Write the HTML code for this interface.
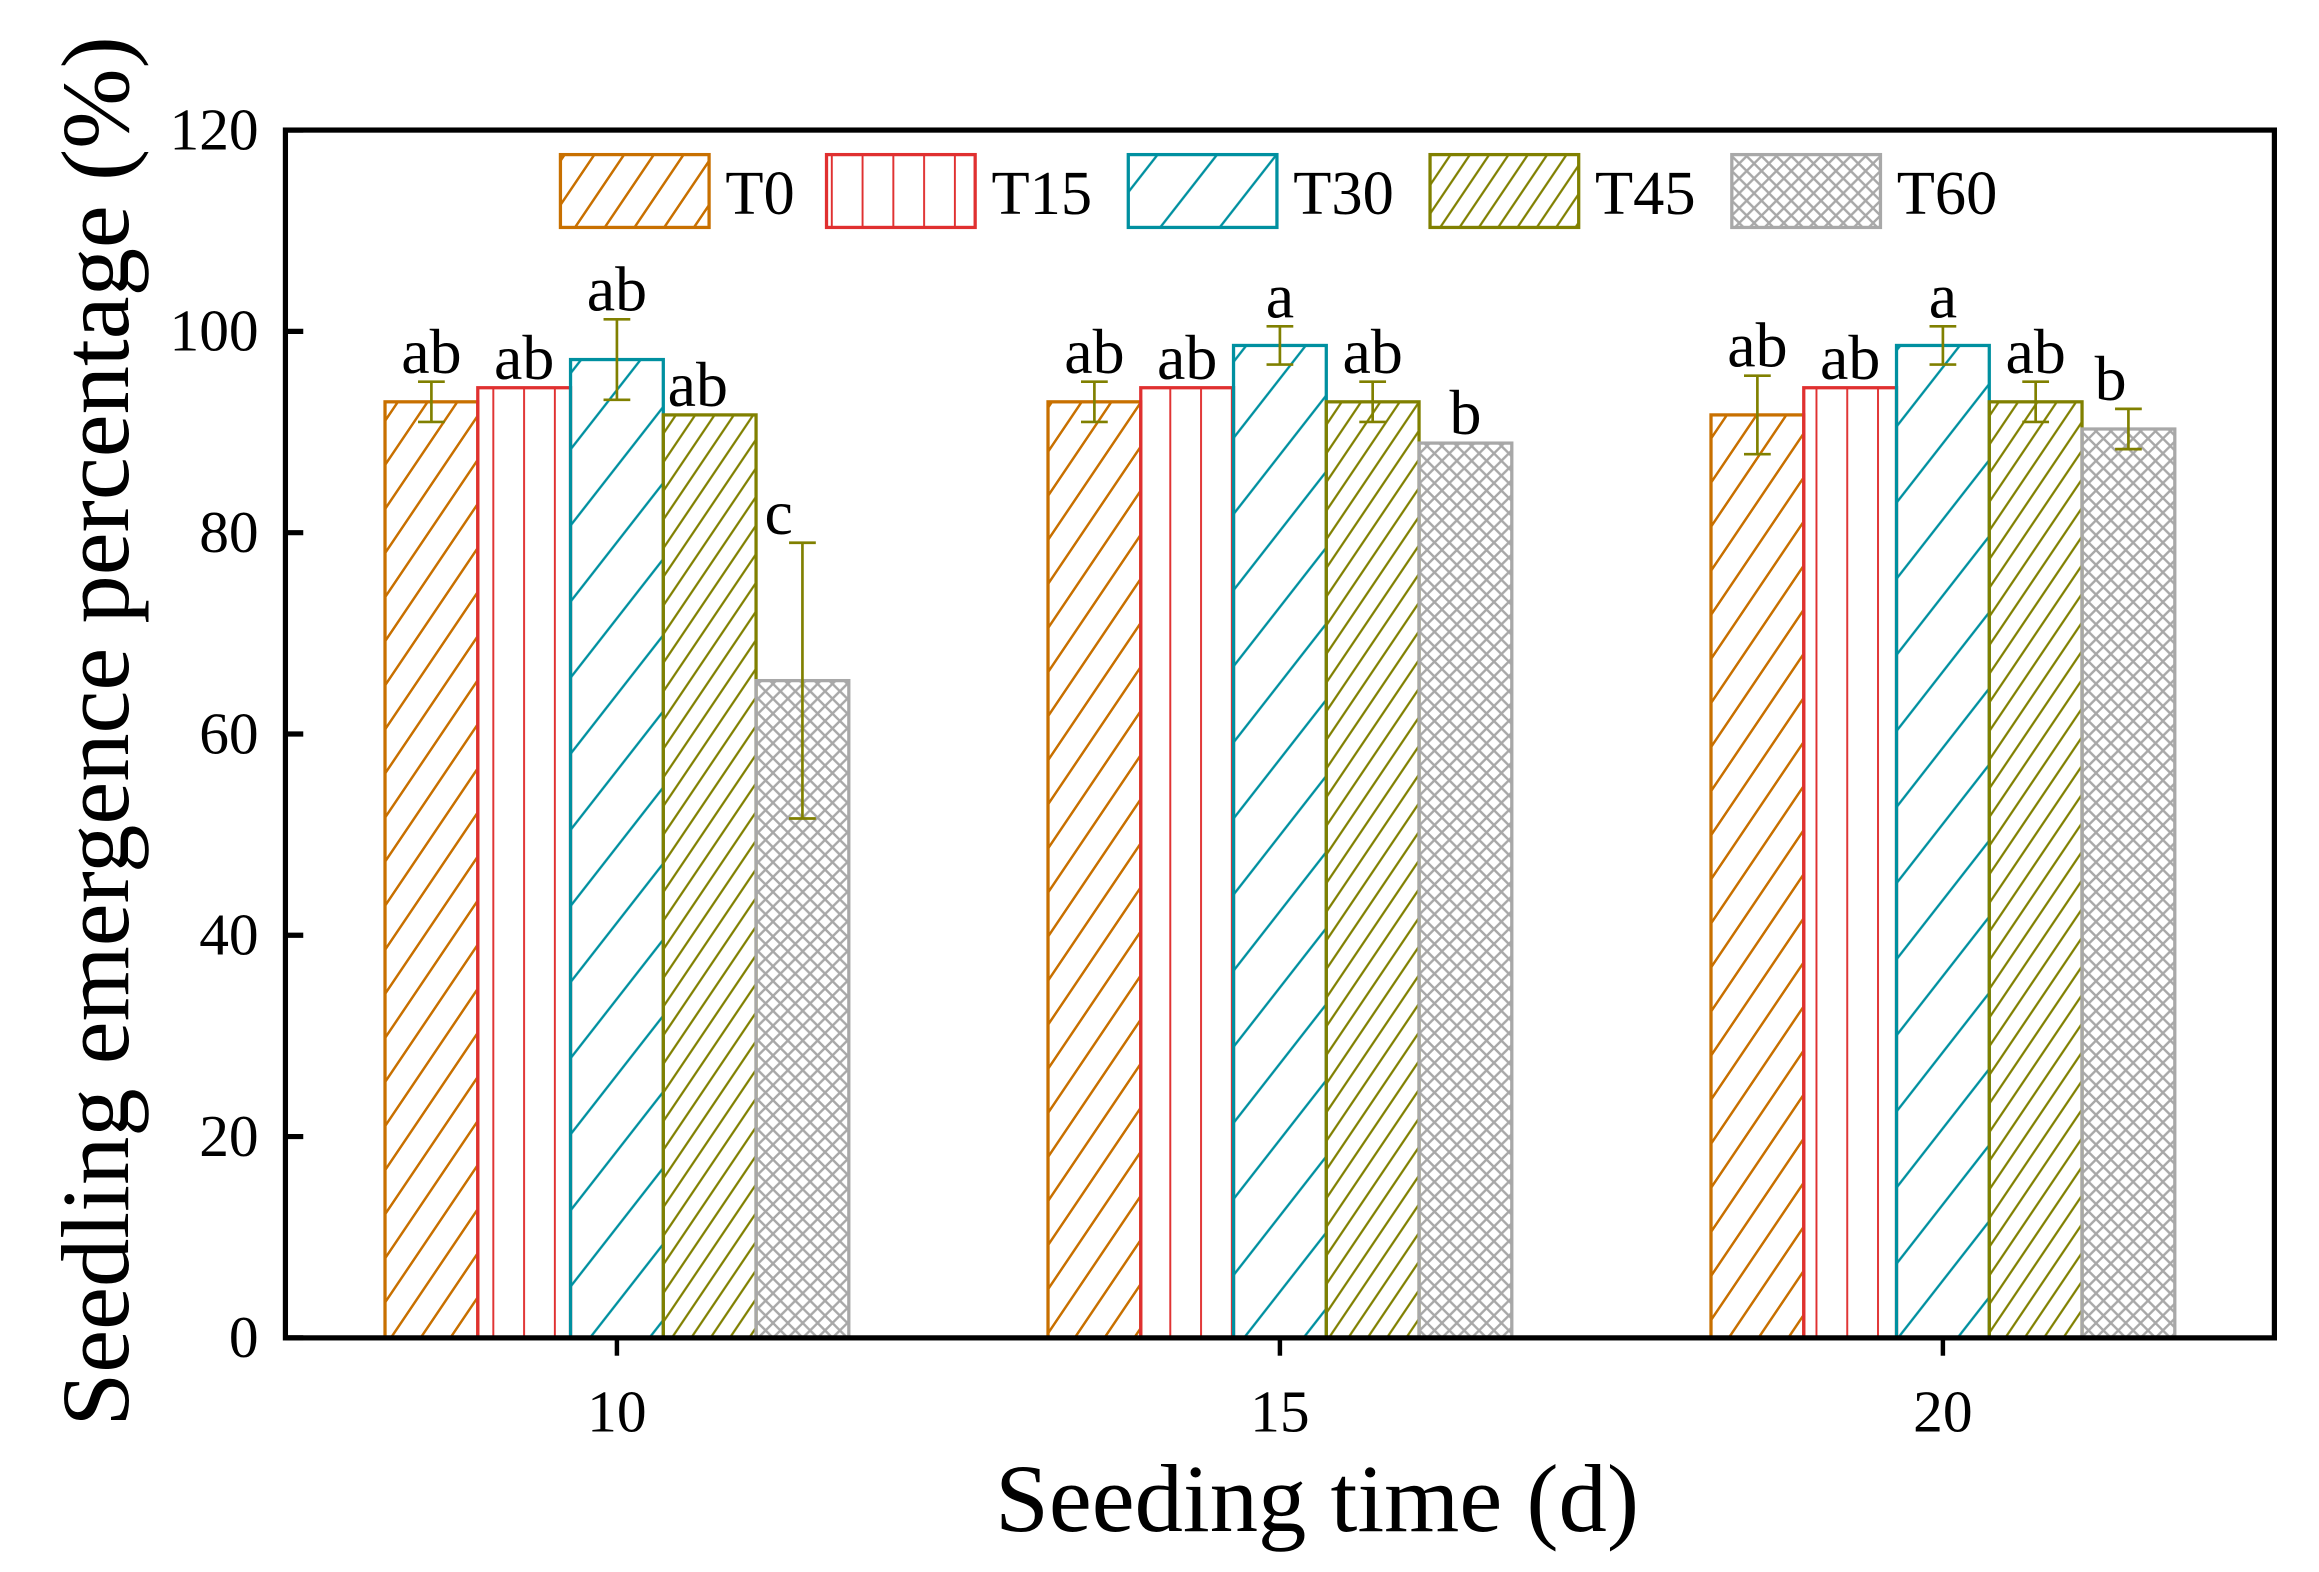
<!DOCTYPE html>
<html><head><meta charset="utf-8"><style>
html,body{margin:0;padding:0;background:#fff;}
svg{display:block;}
text{font-family:"Liberation Serif","DejaVu Serif",serif;fill:#000;}
</style></head><body>
<svg id="chart" width="2319" height="1572" viewBox="0 0 1560 1057.5" xmlns="http://www.w3.org/2000/svg">
<defs>
<pattern id="p0" patternUnits="userSpaceOnUse" width="20" height="30" patternTransform="skewX(-34)"><line x1="10" y1="0" x2="10" y2="30" stroke="#c87000" stroke-width="2"/></pattern>
<pattern id="p1" patternUnits="userSpaceOnUse" width="20.7" height="30"><line x1="0.5" y1="0" x2="0.5" y2="30" stroke="#e03030" stroke-width="1.6"/></pattern>
<pattern id="p2" patternUnits="userSpaceOnUse" width="40" height="60" patternTransform="skewX(-38)"><line x1="20" y1="0" x2="20" y2="60" stroke="#0090a0" stroke-width="2"/></pattern>
<pattern id="p3" patternUnits="userSpaceOnUse" width="13" height="30" patternTransform="skewX(-34)"><line x1="6" y1="0" x2="6" y2="30" stroke="#808000" stroke-width="1.8"/></pattern>
<pattern id="p4" patternUnits="userSpaceOnUse" width="10" height="10"><path d="M0,0 L10,10 M10,0 L0,10" stroke="#a8a8a8" stroke-width="1.6"/></pattern>
</defs>
<g id="plot"></g>
</svg>
<script>
const groups = ["10","15","20"];
const series = ["T0","T15","T30","T45","T60"];
const valsT0 = [93.0, 93.0, 91.7];
const valsT15 = [94.4, 94.4, 94.4];
const valsT30 = [97.2, 98.6, 98.6];
const valsT45 = [91.7, 93.0, 93.0];
const valsT60 = [65.3, 88.9, 90.3];
const errT0 = [2.0, 2.0, 3.9];
const errT15 = [0, 0, 0];
const errT30 = [4.0, 1.9, 1.9];
const errT45 = [0, 2.0, 2.0];
const errT60 = [13.7, 0, 2.0];
const lettersT0 = ["ab","ab","ab"];
const lettersT15 = ["ab","ab","ab"];
const lettersT30 = ["ab","a","a"];
const lettersT45 = ["ab","ab","ab"];
const lettersT60 = ["c","b","b"];
const yTicks = [0,20,40,60,80,100,120];

const vals=[valsT0,valsT15,valsT30,valsT45,valsT60];
const errs=[errT0,errT15,errT30,errT45,errT60];
const letters=[lettersT0,lettersT15,lettersT30,lettersT45,lettersT60];
const colors=["#c87000","#e03030","#0090a0","#808000","#a8a8a8"];
const L=192,T=87.5,R=1530,B=900;
const y=v=>B-(v/120)*(B-T);
const xc=i=>415+i*446;
const bw=62.4;
const NS="http://www.w3.org/2000/svg";
const g=document.getElementById('plot');
function mk(tag,attrs,parent){const e=document.createElementNS(NS,tag);for(const k in attrs)e.setAttribute(k,attrs[k]);(parent||g).appendChild(e);return e;}

for(let s=0;s<5;s++){
  for(let i=0;i<3;i++){
    const x0=xc(i)+(s-2.5)*bw, yt=y(vals[s][i]);
    const r=mk('rect',{x:x0,y:yt,width:bw,height:B-yt,fill:'url(#p'+s+')',stroke:colors[s],'stroke-width':2.2});
    
    
    const cx=x0+bw/2;
    let top=yt;
    if(errs[s][i]>0){
      const e1=y(vals[s][i]+errs[s][i]),e2=y(vals[s][i]-errs[s][i]);
      const eg=mk('g',{stroke:'#808000','stroke-width':1.8});
      
      
      mk('line',{x1:cx,y1:e1,x2:cx,y2:e2},eg);
      mk('line',{x1:cx-9,y1:e1,x2:cx+9,y2:e1},eg);
      mk('line',{x1:cx-9,y1:e2,x2:cx+9,y2:e2},eg);
      top=Math.min(top,e1);
    }
    const t=mk('text',{x:cx+(s===3&&i===0?-8:(s===4&&i===2?-12:(s===4&&i===0?-16:0))),y:top-6,'text-anchor':'middle','font-size':43});
    t.textContent=letters[s][i];
    
    
  }
}
const fr=mk('rect',{x:L,y:T,width:R-L,height:B-T,fill:'none',stroke:'#000','stroke-width':3.5});


for(const v of yTicks){
  mk('line',{x1:L,y1:y(v),x2:L+12,y2:y(v),stroke:'#000','stroke-width':3.5});
  const t=mk('text',{x:L-18,y:y(v)+13,'text-anchor':'end','font-size':40});
  t.textContent=v;
  
  
}
for(let i=0;i<3;i++){
  mk('line',{x1:xc(i),y1:B,x2:xc(i),y2:B+12,stroke:'#000','stroke-width':3});
  const t=mk('text',{x:xc(i),y:B+63,'text-anchor':'middle','font-size':40});
  t.textContent=groups[i];
  
  
}
const xt=mk('text',{x:886,y:1030,'text-anchor':'middle','font-size':65});
xt.textContent='Seeding time (d)';


const yt=mk('text',{x:0,y:0,'text-anchor':'middle','font-size':65,transform:'translate(86,492) rotate(-90)'});
yt.textContent='Seedling emergence percentage (%)';


const lx=[377,556,759,962,1165];
for(let s=0;s<5;s++){
  const lg=mk('g',{});
  
  
  mk('rect',{x:lx[s],y:104,width:100,height:49,fill:'url(#p'+s+')',stroke:colors[s],'stroke-width':2.2},lg);
  const t=mk('text',{x:lx[s]+111,y:144,'font-size':42},lg);
  t.textContent=series[s];
}
</script>
</body></html>
